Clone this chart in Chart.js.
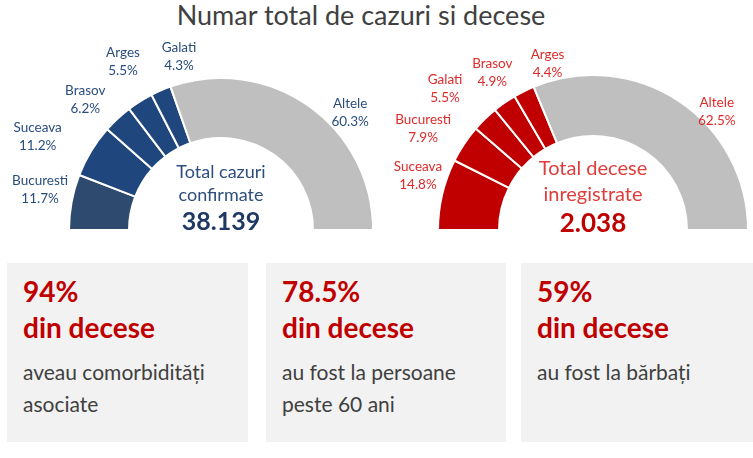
<!DOCTYPE html>
<html>
<head>
<meta charset="utf-8">
<script src="https://cdn.jsdelivr.net/npm/chart.js@4/dist/chart.umd.min.js"></script>
<style>
  html, body { margin: 0; padding: 0; background: #ffffff; }
  body { width: 753px; height: 458px; position: relative; overflow: hidden; font-family: Lato, "Open Sans", sans-serif; }
  canvas { position: absolute; left: 0; top: 0; }
  #title { position: absolute; left: 0; width: 722px; top: 0; text-align: center; font-size: 27px; color: #404040; line-height: 30px; }
  .box { position: absolute; top: 263px; height: 179px; background: #f2f2f2; }
  .box .big { position: absolute; left: 16px; font-weight: bold; color: #c00000; font-size: 28px; line-height: 30px; }
  .box .sub { position: absolute; left: 16px; color: #404040; font-size: 21px; line-height: 32px; top: 93px; white-space: nowrap; }
  .center { position: absolute; text-align: center; width: 200px; }
  .center .n { font-weight: bold; line-height: 30px; }
</style>
</head>
<body>
<div id="title">Numar total de cazuri si decese</div>

<div class="box" style="left:7px;width:241px;">
  <div class="big" style="top:13px;">94%</div>
  <div class="big" style="top:49px;">din decese</div>
  <div class="sub">aveau comorbidități<br>asociate</div>
</div>
<div class="box" style="left:266px;width:240px;">
  <div class="big" style="top:13px;">78.5%</div>
  <div class="big" style="top:49px;">din decese</div>
  <div class="sub">au fost la persoane<br>peste 60 ani</div>
</div>
<div class="box" style="left:521px;width:240px;">
  <div class="big" style="top:13px;">59%</div>
  <div class="big" style="top:49px;">din decese</div>
  <div class="sub">au fost la bărbați</div>
</div>

<canvas id="c1" width="753" height="458"></canvas>
<canvas id="c2" width="753" height="458"></canvas>

<div class="center" style="left:121px;top:160px;color:#2e4f7e;">
  <div style="font-size:18px;line-height:23px;">Total cazuri<br>confirmate</div>
  <div class="n" style="color:#1f3864;font-size:25px;margin-top:-1px;">38.139</div>
</div>
<div class="center" style="left:493px;top:154px;color:#e03c3c;">
  <div style="font-size:20px;line-height:26px;">Total decese<br>inregistrate</div>
  <div class="n" style="color:#c00000;font-size:26px;margin-top:1px;">2.038</div>
</div>

<script>
// ---- data ----
const casesLabels = ["Bucuresti", "Suceava", "Brasov", "Arges", "Galati", "Altele"];
const casesValues = [11.7, 11.2, 6.2, 5.5, 4.3, 60.3];
const deathsLabels = ["Suceava", "Bucuresti", "Galati", "Brasov", "Arges", "Altele"];
const deathsValues = [14.8, 7.9, 5.5, 4.9, 4.4, 62.5];

// ---- styles / layout (not data) ----
const casesColors = ["#2e4a6f", "#1f477d", "#1f477d", "#1f477d", "#1f477d", "#bfbfbf"];
const deathsColors = ["#c00000", "#c00000", "#c00000", "#c00000", "#c00000", "#bfbfbf"];
const casesNudge = [[-2,-7],[-28,1],[-12,3],[-1,-14],[30,-6],[24,31]];
const deathsNudge = [[5,-12],[-16,1],[-19,-9],[5,-6],[37,-1],[21,35]];

const labelPlugin = {
  id: 'outLabels',
  afterDatasetsDraw(chart, args, opts) {
    const ctx = chart.ctx;
    const meta = chart.getDatasetMeta(0);
    const ds = chart.data.datasets[0];
    ctx.save();
    ctx.font = '13.5px Lato, "Open Sans", sans-serif';
    ctx.fillStyle = opts.color;
    ctx.textAlign = 'center';
    ctx.textBaseline = 'middle';
    meta.data.forEach((arc, i) => {
      const mid = (arc.startAngle + arc.endAngle) / 2;
      const d = arc.outerRadius + 30;
      const x = arc.x + Math.cos(mid) * d + opts.nudge[i][0];
      const y = arc.y + Math.sin(mid) * d + opts.nudge[i][1];
      ctx.fillText(chart.data.labels[i], x, y - 9);
      ctx.fillText(ds.data[i].toFixed(1) + '%', x, y + 9);
    });
    ctx.restore();
  }
};

function halfDonut(id, labels, values, colors, cx, cy, R, r, labelColor, nudge) {
  const W = 753, H = 458;
  return new Chart(document.getElementById(id), {
    type: 'doughnut',
    data: { labels: labels, datasets: [{ data: values, backgroundColor: colors, borderColor: '#ffffff', borderWidth: 2 }] },
    options: {
      responsive: false, animation: false,
      rotation: -90, circumference: 180,
      radius: R, cutout: (r / R * 100) + '%',
      layout: { padding: { left: cx - R, right: W - (cx + R), top: cy - R, bottom: H - cy } },
      plugins: { legend: { display: false }, tooltip: { enabled: false }, title: { display: false },
                 outLabels: { color: labelColor, nudge: nudge } }
    },
    plugins: [labelPlugin]
  });
}

halfDonut('c1', casesLabels, casesValues, casesColors, 221, 230, 152, 92, '#2a4d7f', casesNudge);
halfDonut('c2', deathsLabels, deathsValues, deathsColors, 593, 230, 155, 94, '#e02a2a', deathsNudge);
</script>
</body>
</html>
